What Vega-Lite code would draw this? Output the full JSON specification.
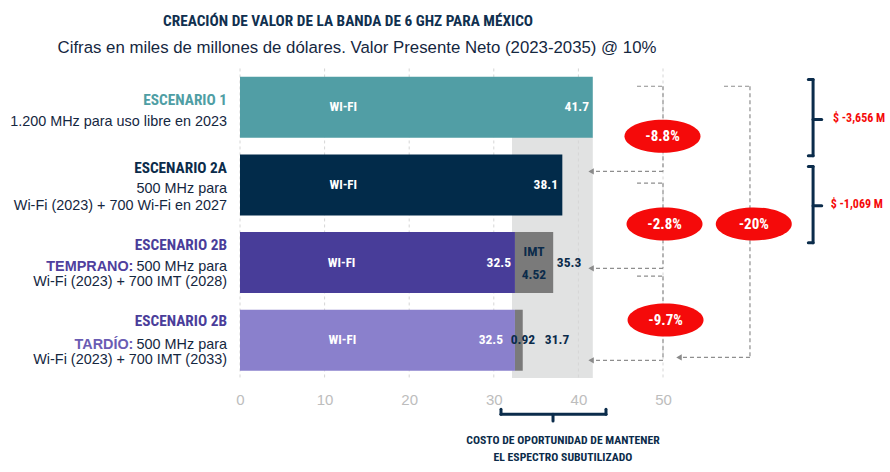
{
  "$schema": "https://vega.github.io/schema/vega-lite/v6.json",
  "width": 890,
  "height": 472,
  "autosize": "none",
  "padding": 0,
  "background": "#ffffff",
  "view": {"stroke": null},
  "datasets": {
    "bars": [
      {"row": 1, "key": "e1", "start": 0, "end": 41.7},
      {"row": 2, "key": "e2a", "start": 0, "end": 38.1},
      {"row": 3, "key": "e2bt", "start": 0, "end": 32.5},
      {"row": 3, "key": "imt", "start": 32.5, "end": 37.02},
      {"row": 4, "key": "e2bd", "start": 0, "end": 32.5},
      {"row": 4, "key": "imt", "start": 32.5, "end": 33.42}
    ],
    "shade": [{"x": 32.15, "x2": 41.7, "y": 1.384, "y2": 4.486}],
    "grid": [{"v": 0}, {"v": 10}, {"v": 20}, {"v": 30}, {"v": 40}, {"v": 50}],
    "dash": [
      {"x": 46.93, "x2": 50, "y": 0.729, "y2": 0.729},
      {"x": 50, "x2": 50, "y": 0.729, "y2": 1.826},
      {"x": 50, "x2": 41.4, "y": 1.826, "y2": 1.826},
      {"x": 46.93, "x2": 50, "y": 1.977, "y2": 1.977},
      {"x": 50, "x2": 50, "y": 1.977, "y2": 3.074},
      {"x": 50, "x2": 41.4, "y": 3.074, "y2": 3.074},
      {"x": 46.93, "x2": 50, "y": 3.175, "y2": 3.175},
      {"x": 50, "x2": 50, "y": 3.175, "y2": 4.259},
      {"x": 50, "x2": 41.4, "y": 4.259, "y2": 4.259},
      {"x": 57.21, "x2": 60.28, "y": 0.729, "y2": 0.729},
      {"x": 60.28, "x2": 60.28, "y": 0.729, "y2": 4.221},
      {"x": 60.28, "x2": 51.9, "y": 4.221, "y2": 4.221}
    ],
    "heads": [
      {"x": 41.5, "y": 1.826},
      {"x": 41.5, "y": 3.074},
      {"x": 41.5, "y": 4.259},
      {"x": 51.89, "y": 4.221}
    ],
    "ellipses": [
      {"x": 49.94, "y": 1.374, "t": "-8.8%"},
      {"x": 50.18, "y": 2.502, "t": "-2.8%"},
      {"x": 60.73, "y": 2.502, "t": "-20%"},
      {"x": 50.3, "y": 3.738, "t": "-9.7%"}
    ],
    "brackets": [
      {"x": 67.74, "x2": 67.74, "y": 0.641, "y2": 1.624},
      {"x": 67.18, "x2": 67.74, "y": 0.641, "y2": 0.641},
      {"x": 67.18, "x2": 67.74, "y": 1.624, "y2": 1.624},
      {"x": 67.74, "x2": 68.76, "y": 1.158, "y2": 1.158},
      {"x": 67.74, "x2": 67.74, "y": 1.763, "y2": 2.746},
      {"x": 67.18, "x2": 67.74, "y": 1.763, "y2": 1.763},
      {"x": 67.18, "x2": 67.74, "y": 2.746, "y2": 2.746},
      {"x": 67.74, "x2": 68.76, "y": 2.267, "y2": 2.267},
      {"x": 30.85, "x2": 43.26, "y": 4.952, "y2": 4.952},
      {"x": 30.85, "x2": 30.85, "y": 4.889, "y2": 4.952},
      {"x": 43.26, "x2": 43.26, "y": 4.889, "y2": 4.952},
      {"x": 37.0, "x2": 37.0, "y": 4.952, "y2": 5.04}
    ],
    "texts": [
      {"g": "title", "t": "CREACIÓN DE VALOR DE LA BANDA DE 6 GHZ PARA MÉXICO", "x": 12.77, "y": -0.11},
      {"g": "subtitle", "t": "Cifras en miles de millones de dólares. Valor Presente Neto (2023-2035) @ 10%", "x": 13.83, "y": 0.232},
      {"g": "h1", "t": "ESCENARIO 1", "x": -1.54, "y": 0.905},
      {"g": "h2a", "t": "ESCENARIO 2A", "x": -1.54, "y": 1.788},
      {"g": "h2b", "t": "ESCENARIO 2B", "x": -1.54, "y": 2.771},
      {"g": "h2b", "t": "ESCENARIO 2B", "x": -1.54, "y": 3.754},
      {"g": "body", "t": "1.200 MHz para uso libre en 2023", "x": -1.54, "y": 1.195},
      {"g": "body", "t": "500 MHz para", "x": -1.54, "y": 2.053},
      {"g": "body", "t": "Wi-Fi (2023) + 700 Wi-Fi en 2027", "x": -1.54, "y": 2.267},
      {"g": "body", "t": "500 MHz para", "x": -1.54, "y": 3.061},
      {"g": "body", "t": "Wi-Fi (2023) + 700 IMT  (2028)", "x": -1.54, "y": 3.25},
      {"g": "body", "t": "500 MHz para", "x": -1.54, "y": 4.057},
      {"g": "body", "t": "Wi-Fi (2023) + 700 IMT (2033)", "x": -1.54, "y": 4.259},
      {"g": "tag1", "t": "TEMPRANO:", "x": -12.6, "y": 3.061},
      {"g": "tag2", "t": "TARDÍO:", "x": -12.6, "y": 4.057},
      {"g": "wifi", "t": "WI-FI", "x": 12.2, "y": 1},
      {"g": "wifi", "t": "WI-FI", "x": 12.2, "y": 2},
      {"g": "wifi", "t": "WI-FI", "x": 12.0, "y": 3},
      {"g": "wifi", "t": "WI-FI", "x": 12.1, "y": 4},
      {"g": "valw", "t": "41.7", "x": 41.25, "y": 1},
      {"g": "valw", "t": "38.1", "x": 37.59, "y": 2},
      {"g": "valw", "t": "32.5", "x": 32.03, "y": 3},
      {"g": "valw", "t": "32.5", "x": 31.09, "y": 4},
      {"g": "valn", "t": "IMT", "x": 34.75, "y": 2.859},
      {"g": "valn", "t": "4.52", "x": 34.75, "y": 3.162},
      {"g": "valn", "t": "35.3", "x": 38.89, "y": 3.006},
      {"g": "valn", "t": "0.92", "x": 33.45, "y": 3.994},
      {"g": "valn", "t": "31.7", "x": 37.47, "y": 3.994},
      {"g": "red", "t": "$ -3,656 M", "x": 70.09, "y": 1.132},
      {"g": "red", "t": "$ -1,069 M", "x": 69.82, "y": 2.242},
      {"g": "bottom", "t": "COSTO DE OPORTUNIDAD DE MANTENER", "x": 38.18, "y": 5.28},
      {"g": "bottom", "t": "EL ESPECTRO SUBUTILIZADO", "x": 38.18, "y": 5.507}
    ]
  },
  "resolve": {"scale": {"color": "independent"}},
  "layer": [
    {
      "data": {"name": "shade"},
      "mark": {"type": "rect", "color": "#e1e2e2"},
      "encoding": {
        "x": {"field": "x", "type": "quantitative", "scale": {"domain": [-28.369, 76.832], "nice": false, "zero": false}, "axis": {"values": [0, 10, 20, 30, 40, 50], "title": null, "domain": false, "ticks": false, "grid": false, "labelColor": "#bdbdbd", "labelFont": "Liberation Sans", "labelFontSize": 15, "labelPadding": 0, "labelBaseline": "middle", "offset": -73}},
        "x2": {"field": "x2"},
        "y": {"field": "y", "type": "quantitative", "scale": {"domain": [-0.3173, 5.6326], "nice": false, "zero": false, "reverse": true}, "axis": null},
        "y2": {"field": "y2"}
      }
    },
    {
      "data": {"name": "grid"},
      "mark": {"type": "rule", "color": "#d6d6d6", "strokeWidth": 1, "strokeDash": [3, 3]},
      "encoding": {
        "x": {"field": "v", "type": "quantitative"},
        "y": {"datum": 0.5, "type": "quantitative"},
        "y2": {"datum": 4.486}
      }
    },
    {
      "data": {"name": "bars"},
      "mark": {"type": "bar", "height": 61},
      "encoding": {
        "x": {"field": "start", "type": "quantitative"},
        "x2": {"field": "end"},
        "y": {"field": "row", "type": "quantitative"},
        "color": {"field": "key", "type": "nominal", "legend": null, "scale": {"domain": ["e1", "e2a", "e2bt", "e2bd", "imt"], "range": ["#519ea5", "#022b4a", "#483d99", "#8a80cc", "#7a7a7a"]}}
      }
    },
    {
      "data": {"name": "dash"},
      "mark": {"type": "rule", "color": "#8e8e8e", "strokeWidth": 1.2, "strokeDash": [4, 3]},
      "encoding": {
        "x": {"field": "x", "type": "quantitative"},
        "x2": {"field": "x2"},
        "y": {"field": "y", "type": "quantitative"},
        "y2": {"field": "y2"}
      }
    },
    {
      "data": {"name": "heads"},
      "mark": {"type": "point", "shape": "triangle-left", "filled": true, "color": "#8a8a8a", "size": 40, "opacity": 1},
      "encoding": {
        "x": {"field": "x", "type": "quantitative"},
        "y": {"field": "y", "type": "quantitative"}
      }
    },
    {
      "data": {"name": "ellipses"},
      "mark": {"type": "point", "shape": "M-1,0 A1,0.434 0 1,1 1,0 A1,0.434 0 1,1 -1,0 Z", "filled": true, "color": "#f50a0a", "size": 5776, "opacity": 1},
      "encoding": {
        "x": {"field": "x", "type": "quantitative"},
        "y": {"field": "y", "type": "quantitative"}
      }
    },
    {
      "data": {"name": "ellipses"},
      "mark": {"type": "text", "color": "#ffffff", "font": "Roboto Condensed, Roboto, sans-serif", "fontWeight": "bold", "fontSize": 15, "align": "center", "baseline": "middle"},
      "encoding": {
        "x": {"field": "x", "type": "quantitative"},
        "y": {"field": "y", "type": "quantitative"},
        "text": {"field": "t"}
      }
    },
    {
      "data": {"name": "brackets"},
      "mark": {"type": "rule", "color": "#0b2c4b", "strokeWidth": 3, "strokeCap": "round"},
      "encoding": {
        "x": {"field": "x", "type": "quantitative"},
        "x2": {"field": "x2"},
        "y": {"field": "y", "type": "quantitative"},
        "y2": {"field": "y2"}
      }
    },
    {
      "data": {"name": "texts"},
      "transform": [{"filter": "datum.g === 'title'"}],
      "mark": {"type": "text", "color": "#10304f", "font": "Roboto Condensed, Roboto, sans-serif", "fontWeight": "bold", "fontSize": 15.3, "align": "center", "baseline": "middle"},
      "encoding": {"x": {"field": "x", "type": "quantitative"}, "y": {"field": "y", "type": "quantitative"}, "text": {"field": "t"}}
    },
    {
      "data": {"name": "texts"},
      "transform": [{"filter": "datum.g === 'subtitle'"}],
      "mark": {"type": "text", "color": "#15273f", "font": "Liberation Sans, Arial, sans-serif", "fontSize": 16.8, "align": "center", "baseline": "middle"},
      "encoding": {"x": {"field": "x", "type": "quantitative"}, "y": {"field": "y", "type": "quantitative"}, "text": {"field": "t"}}
    },
    {
      "data": {"name": "texts"},
      "transform": [{"filter": "datum.g === 'h1'"}],
      "mark": {"type": "text", "color": "#4f9ea4", "font": "Roboto Condensed, Roboto, sans-serif", "fontWeight": "bold", "fontSize": 15.3, "align": "right", "baseline": "middle"},
      "encoding": {"x": {"field": "x", "type": "quantitative"}, "y": {"field": "y", "type": "quantitative"}, "text": {"field": "t"}}
    },
    {
      "data": {"name": "texts"},
      "transform": [{"filter": "datum.g === 'h2a'"}],
      "mark": {"type": "text", "color": "#0b2b4a", "font": "Roboto Condensed, Roboto, sans-serif", "fontWeight": "bold", "fontSize": 15.3, "align": "right", "baseline": "middle"},
      "encoding": {"x": {"field": "x", "type": "quantitative"}, "y": {"field": "y", "type": "quantitative"}, "text": {"field": "t"}}
    },
    {
      "data": {"name": "texts"},
      "transform": [{"filter": "datum.g === 'h2b'"}],
      "mark": {"type": "text", "color": "#4a3d9a", "font": "Roboto Condensed, Roboto, sans-serif", "fontWeight": "bold", "fontSize": 15.3, "align": "right", "baseline": "middle"},
      "encoding": {"x": {"field": "x", "type": "quantitative"}, "y": {"field": "y", "type": "quantitative"}, "text": {"field": "t"}}
    },
    {
      "data": {"name": "texts"},
      "transform": [{"filter": "datum.g === 'body'"}],
      "mark": {"type": "text", "color": "#15273f", "font": "Liberation Sans, Arial, sans-serif", "fontSize": 14.4, "align": "right", "baseline": "middle"},
      "encoding": {"x": {"field": "x", "type": "quantitative"}, "y": {"field": "y", "type": "quantitative"}, "text": {"field": "t"}}
    },
    {
      "data": {"name": "texts"},
      "transform": [{"filter": "datum.g === 'tag1'"}],
      "mark": {"type": "text", "color": "#4f409e", "font": "Liberation Sans, Arial, sans-serif", "fontWeight": "bold", "fontSize": 14.4, "align": "right", "baseline": "middle"},
      "encoding": {"x": {"field": "x", "type": "quantitative"}, "y": {"field": "y", "type": "quantitative"}, "text": {"field": "t"}}
    },
    {
      "data": {"name": "texts"},
      "transform": [{"filter": "datum.g === 'tag2'"}],
      "mark": {"type": "text", "color": "#6a5cb3", "font": "Liberation Sans, Arial, sans-serif", "fontWeight": "bold", "fontSize": 14.4, "align": "right", "baseline": "middle"},
      "encoding": {"x": {"field": "x", "type": "quantitative"}, "y": {"field": "y", "type": "quantitative"}, "text": {"field": "t"}}
    },
    {
      "data": {"name": "texts"},
      "transform": [{"filter": "datum.g === 'wifi'"}],
      "mark": {"type": "text", "color": "#ffffff", "font": "Roboto Condensed, Roboto, sans-serif", "fontWeight": "bold", "fontSize": 13, "align": "center", "baseline": "middle"},
      "encoding": {"x": {"field": "x", "type": "quantitative"}, "y": {"field": "y", "type": "quantitative"}, "text": {"field": "t"}}
    },
    {
      "data": {"name": "texts"},
      "transform": [{"filter": "datum.g === 'valw'"}],
      "mark": {"type": "text", "color": "#ffffff", "font": "Roboto Condensed, Roboto, sans-serif", "fontWeight": "bold", "fontSize": 13.5, "align": "right", "baseline": "middle"},
      "encoding": {"x": {"field": "x", "type": "quantitative"}, "y": {"field": "y", "type": "quantitative"}, "text": {"field": "t"}}
    },
    {
      "data": {"name": "texts"},
      "transform": [{"filter": "datum.g === 'valn'"}],
      "mark": {"type": "text", "color": "#0b2b4a", "font": "Roboto Condensed, Roboto, sans-serif", "fontWeight": "bold", "fontSize": 13.5, "align": "center", "baseline": "middle"},
      "encoding": {"x": {"field": "x", "type": "quantitative"}, "y": {"field": "y", "type": "quantitative"}, "text": {"field": "t"}}
    },
    {
      "data": {"name": "texts"},
      "transform": [{"filter": "datum.g === 'red'"}],
      "mark": {"type": "text", "color": "#f50a0a", "font": "Roboto Condensed, Roboto, sans-serif", "fontWeight": "bold", "fontSize": 12, "align": "left", "baseline": "middle"},
      "encoding": {"x": {"field": "x", "type": "quantitative"}, "y": {"field": "y", "type": "quantitative"}, "text": {"field": "t"}}
    },
    {
      "data": {"name": "texts"},
      "transform": [{"filter": "datum.g === 'bottom'"}],
      "mark": {"type": "text", "color": "#0b2b4a", "font": "Roboto Condensed, Roboto, sans-serif", "fontWeight": "bold", "fontSize": 11.7, "align": "center", "baseline": "middle"},
      "encoding": {"x": {"field": "x", "type": "quantitative"}, "y": {"field": "y", "type": "quantitative"}, "text": {"field": "t"}}
    }
  ]
}
